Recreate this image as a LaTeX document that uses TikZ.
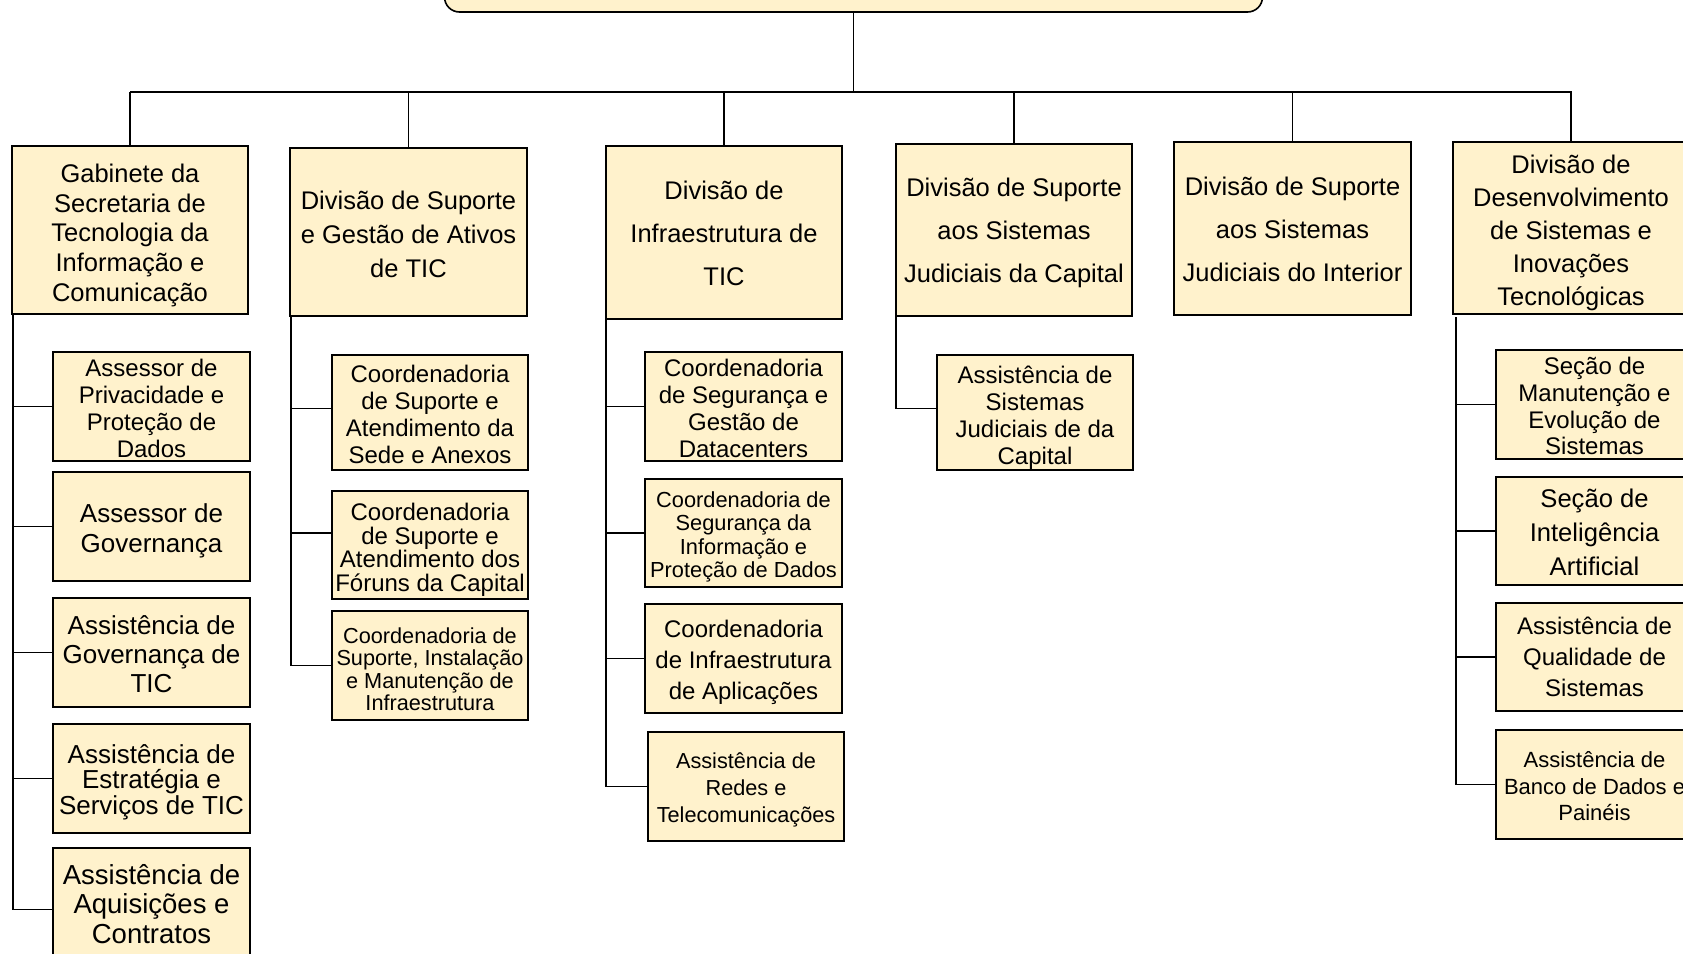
\documentclass[tikz,border=0pt]{standalone}
\usepackage{fontspec}
\setmainfont{Liberation Sans}
\tikzset{
  orgbox/.style={draw=black, line width=1.6pt, fill=boxfill, rectangle, inner sep=0pt, outer sep=0pt},
  boxtext/.style={align=center, inner sep=0pt, outer sep=0pt, text=black},
  topbox/.style={orgbox, rounded corners=15pt},
  link/.style={draw=black, line width=1.6pt},
}
\definecolor{boxfill}{HTML}{FFF2CC}
\newcommand{\fs}[2]{\fontsize{#1}{#2}\selectfont}
% name, x1, y1, x2, y2, font, downward text shift, text
\newcommand{\ob}[8]{%
  \node[orgbox, minimum width={#4-#2}, minimum height={#5-#3}] (#1) at ({(#2+#4)/2},{(#3+#5)/2}) {};
  \node[boxtext, font=#6] (#1t) at ([yshift={-(#7)*1pt}]#1.center) {#8};}
\begin{document}
\begin{tikzpicture}[x=1pt, y=-1pt]
\useasboundingbox (0,0) rectangle (1683,953);
\clip (0,0) rectangle (1683,953);
% top box (cut off by the top edge)
\node[topbox, minimum width=818, minimum height=92] (top) at (853.5,-34) {};
% first level
\ob{b1}{12}{146}{248}{314}{\fs{25.5}{29.7}}{5.4}{Gabinete da\\Secretaria de\\Tecnologia da\\Informação e\\Comunicação}
\ob{b2}{290}{148}{527}{316}{\fs{25.5}{34}}{2}{Divisão de Suporte\\e Gestão de Ativos\\de TIC}
\ob{b3}{606}{146}{842}{319}{\fs{25.5}{43}}{1}{Divisão de\\Infraestrutura de\\TIC}
\ob{b4}{896}{144}{1132}{316}{\fs{25.5}{43}}{3}{Divisão de Suporte\\aos Sistemas\\Judiciais da Capital}
\ob{b5}{1174}{142}{1411}{315}{\fs{25.5}{43}}{1}{Divisão de Suporte\\aos Sistemas\\Judiciais do Interior}
\ob{b6}{1453}{142}{1689}{314}{\fs{25.5}{33}}{5.4}{Divisão de\\Desenvolvimento\\de Sistemas e\\Inovações\\Tecnológicas}
% children of b1
\ob{c11}{53}{352}{250}{461}{\fs{24}{26.8}}{2}{Assessor de\\Privacidade e\\Proteção de\\Dados}
\ob{c12}{53}{472}{250}{581}{\fs{26}{30}}{4}{Assessor de\\Governança}
\ob{c13}{53}{598}{250}{707}{\fs{26}{29}}{2}{Assistência de\\Governança de\\TIC}
\ob{c14}{53}{724}{250}{833}{\fs{26}{25.8}}{3.7}{Assistência de\\Estratégia e\\Serviços de TIC}
\ob{c15}{53}{848}{250}{963}{\fs{27.5}{29.5}}{-1.5}{Assistência de\\Aquisições e\\Contratos}
% children of b2
\ob{c21}{332}{355}{528}{470}{\fs{24}{26.8}}{2}{Coordenadoria\\de Suporte e\\Atendimento da\\Sede e Anexos}
\ob{c22}{332}{491}{528}{599}{\fs{24}{23.5}}{4.8}{Coordenadoria\\de Suporte e\\Atendimento dos\\Fóruns da Capital}
\ob{c23}{332}{611}{528}{720}{\fs{21.7}{22.5}}{3.7}{Coordenadoria de\\Suporte, Instalação\\e Manutenção de\\Infraestrutura}
% children of b3
\ob{c31}{645}{352}{842}{461}{\fs{24}{26.8}}{2}{Coordenadoria\\de Segurança e\\Gestão de\\Datacenters}
\ob{c32}{645}{479}{842}{587}{\fs{21.8}{23.5}}{3.7}{Coordenadoria de\\Segurança da\\Informação e\\Proteção de Dados}
\ob{c33}{645}{604}{842}{713}{\fs{24}{31}}{4.3}{Coordenadoria\\de Infraestrutura\\de Aplicações}
\ob{c34}{648}{732}{844}{841}{\fs{21.7}{27}}{3.7}{Assistência de\\Redes e\\Telecomunicações}
% child of b4
\ob{c41}{937}{355}{1133}{470}{\fs{24}{26.8}}{5.4}{Assistência de\\Sistemas\\Judiciais de da\\Capital}
% children of b6
\ob{c61}{1496}{350}{1693}{459}{\fs{24}{26.8}}{1.6}{Seção de\\Manutenção e\\Evolução de\\Sistemas}
\ob{c62}{1496}{477}{1693}{585}{\fs{25.6}{34}}{1}{Seção de\\Inteligência\\Artificial}
\ob{c63}{1496}{603}{1693}{711}{\fs{24}{30.8}}{0}{Assistência de\\Qualidade de\\Sistemas}
\ob{c64}{1496}{730}{1693}{839}{\fs{22}{26.8}}{1.6}{Assistência de\\Banco de Dados e\\Painéis}
% bus
\coordinate (busL) at (130,92);
\coordinate (busR) at (1572,92);
\draw[link] (busL) -- (busR);
\draw[link] (top.south) -- (top.south |- busL);
\foreach \b in {b1,b2,b3,b4,b5,b6}{
  \draw[link] (\b.north) -- (\b.north |- busL);
}
% b1 children
\coordinate (v1) at ([xshift=1pt]b1.south west);
\draw[link] (v1) -- ([yshift=-4pt]v1 |- c15.west) -- ([yshift=-4pt]c15.west);
\foreach \c in {c11,c12,c13,c14}{ \draw[link] (\c.west) -- (\c.west -| v1); }
% b2 children
\coordinate (v2) at ([xshift=1pt]b2.south west);
\draw[link] (v2) -- (v2 |- c23.west) -- (c23.west);
\draw[link] ([yshift=4pt]c21.west) -- ([yshift=4pt]c21.west -| v2);
\draw[link] ([yshift=12pt]c22.west) -- ([yshift=12pt]c22.west -| v2);
% b3 children
\coordinate (v3) at (b3.south west);
\draw[link] (v3) -- (v3 |- c34.west) -- (c34.west);
\foreach \c in {c31,c32,c33}{ \draw[link] (\c.west) -- (\c.west -| v3); }
% b4 child
\coordinate (v4) at (b4.south west);
\draw[link] (v4) -- ([yshift=4pt]v4 |- c41.west) -- ([yshift=4pt]c41.west);
% b6 children
\coordinate (v6) at ([xshift=3pt,yshift=-3pt]b6.south west);
\draw[link] (v6) -- (v6 |- c64.west) -- (c64.west);
\foreach \c in {c61,c62,c63}{ \draw[link] (\c.west) -- (\c.west -| v6); }
\end{tikzpicture}
\end{document}
